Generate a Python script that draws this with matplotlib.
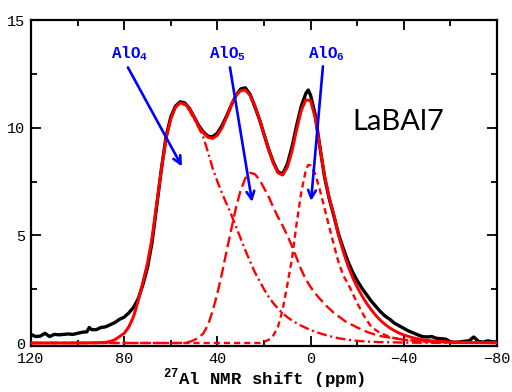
import numpy as np
import matplotlib
matplotlib.use('Agg')
from matplotlib import pyplot as plt
from matplotlib.ticker import MultipleLocator

# experimental spectrum (black)
ppm_exp = [120, 118, 116, 114, 112, 110, 108, 106, 104, 102, 100, 98, 96, 95, 94, 92, 90, 88, 86, 84,
           82, 80, 78, 76, 74, 72, 70, 68, 66, 64, 62, 60, 58, 56, 54, 52, 50, 48, 46, 44,
           42, 40, 38, 36, 34, 32, 30, 28, 26, 24, 22, 20, 18, 16, 14, 12, 10, 8, 6, 4,
           2, 1, 0, -2, -4, -6, -8, -10, -12, -14, -16, -18, -20, -22, -24, -26, -28, -30, -32, -34,
           -36, -38, -40, -42, -44, -46, -48, -50, -52, -54, -56, -58, -60, -62, -64, -66, -68, -70, -72, -74,
           -76, -78, -80]
exp_int = [0.40, 0.30, 0.32, 0.45, 0.30, 0.40, 0.38, 0.40, 0.42, 0.40, 0.45, 0.50, 0.52, 0.72, 0.62, 0.62, 0.72, 0.75, 0.85, 0.95,
           1.10, 1.20, 1.40, 1.65, 2.05, 2.70, 3.50, 4.70, 6.40, 8.10, 9.60, 10.50, 11.00, 11.20, 11.15, 10.90, 10.50, 10.10, 9.80, 9.60,
           9.58, 9.75, 10.10, 10.55, 11.05, 11.50, 11.80, 11.85, 11.55, 11.00, 10.40, 9.70, 9.00, 8.40, 7.95, 7.85, 8.30, 9.10, 10.10, 11.00,
           11.60, 11.75, 11.50, 10.60, 9.10, 7.70, 6.70, 5.90, 5.05, 4.40, 3.80, 3.30, 2.90, 2.55, 2.25, 1.95, 1.70, 1.45, 1.25, 1.10,
           0.92, 0.80, 0.68, 0.56, 0.47, 0.38, 0.30, 0.28, 0.30, 0.22, 0.20, 0.18, 0.06, 0.03, 0.05, 0.08, 0.10, 0.28, 0.08, 0.04,
           0.10, 0.06, 0.05]

# total fit (red)
ppm_fit = [120, 100, 92, 88, 86, 84, 82, 80, 78, 76, 74, 72, 70, 68, 66, 64, 62, 60, 58, 56,
           54, 52, 50, 48, 46, 44, 42, 40, 38, 36, 34, 32, 30, 28, 26, 24, 22, 20, 18, 16,
           14, 12, 10, 8, 6, 4, 2, 0, -2, -4, -6, -8, -10, -12, -14, -16, -18, -20, -22, -24,
           -26, -28, -30, -32, -34, -36, -38, -40, -44, -48, -52, -56, -60, -66, -72, -80]
fit_int = [0.0, 0.0, 0.01, 0.03, 0.07, 0.15, 0.30, 0.45, 0.75, 1.22, 1.95, 2.80, 3.70, 4.90, 6.50, 8.10, 9.50, 10.40, 10.95, 11.15,
           11.10, 10.90, 10.50, 10.05, 9.75, 9.55, 9.50, 9.65, 10.00, 10.50, 11.05, 11.50, 11.72, 11.75, 11.50, 11.05, 10.40, 9.70, 9.00, 8.35,
           7.90, 7.80, 8.15, 8.90, 9.90, 10.80, 11.30, 11.25, 10.45, 9.10, 7.75, 6.75, 5.95, 5.00, 4.25, 3.60, 3.05, 2.60, 2.20, 1.85,
           1.55, 1.28, 1.05, 0.86, 0.70, 0.57, 0.46, 0.37, 0.24, 0.15, 0.10, 0.07, 0.05, 0.03, 0.02, 0.01]

# AlO4 component (dash-dot)
ppm_alo4 = [120, 92, 88, 86, 84, 82, 80, 78, 76, 74, 72, 70, 68, 66, 64, 62, 60, 58, 56, 54,
            52, 50, 48, 46, 44, 42, 40, 38, 36, 34, 32, 30, 28, 26, 24, 22, 20, 18, 16, 14,
            12, 10, 8, 6, 4, 2, 0, -4, -8, -12, -16, -20, -25, -30, -40, -50, -80]
alo4_int = [0.0, 0.01, 0.03, 0.07, 0.15, 0.30, 0.45, 0.75, 1.22, 1.95, 2.80, 3.70, 4.90, 6.50, 8.10, 9.50, 10.40, 10.95, 11.15, 11.05,
            10.80, 10.40, 10.00, 9.55, 8.85, 8.10, 7.50, 6.95, 6.45, 5.95, 5.40, 4.85, 4.30, 3.80, 3.30, 2.90, 2.50, 2.15, 1.85, 1.60,
            1.38, 1.20, 1.05, 0.92, 0.80, 0.70, 0.60, 0.45, 0.32, 0.22, 0.15, 0.10, 0.06, 0.04, 0.02, 0.01, 0.0]

# AlO5 component (long dash)
ppm_alo5 = [120, 56, 52, 50, 48, 46, 44, 42, 40, 38, 36, 34, 32, 30, 28, 26, 24, 22, 20, 18,
            16, 14, 12, 10, 8, 6, 4, 2, 0, -2, -4, -7, -10, -15, -20, -25, -30, -40, -50, -60, -80]
alo5_int = [0.0, 0.0, 0.05, 0.14, 0.25, 0.45, 0.85, 1.50, 2.30, 3.25, 4.30, 5.30, 6.30, 7.10, 7.65, 7.90, 7.85, 7.60, 7.20, 6.80,
            6.30, 5.85, 5.45, 5.00, 4.50, 3.95, 3.40, 2.95, 2.60, 2.30, 2.05, 1.70, 1.40, 1.00, 0.72, 0.48, 0.32, 0.15, 0.07, 0.03, 0.01]

# AlO6 component (short dash)
ppm_alo6 = [120, 22, 20, 18, 16, 14, 12, 10, 8, 6, 4, 2, 1, 0, -2, -4, -6, -8, -10, -12,
            -14, -17, -20, -23, -26, -30, -35, -40, -50, -60, -80]
alo6_int = [0.0, 0.0, 0.05, 0.15, 0.35, 0.75, 1.55, 2.70, 3.90, 5.55, 7.00, 8.05, 8.27, 8.25, 7.85, 7.10, 6.25, 5.40, 4.55, 3.75,
            3.15, 2.55, 1.85, 1.25, 0.75, 0.45, 0.25, 0.15, 0.06, 0.03, 0.01]

# labels: text position, arrow tail, arrow head (ppm, intensity)
labels = ['AlO$_\\mathregular{4}$', 'AlO$_\\mathregular{5}$', 'AlO$_\\mathregular{6}$']
label_xy = [(85.5, 13.45), (43.5, 13.45), (1.2, 13.45)]
arrow_from = [(78.4, 12.8), (34.6, 12.8), (-5.3, 12.85)]
arrow_to = [(55.2, 8.2), (25.1, 6.55), (-0.2, 6.6)]

mono = 'Liberation Mono'

fig = plt.figure(figsize=(5.12, 3.92), dpi=100)
ax = fig.add_axes([0.0605, 0.1173, 0.9102, 0.8316])

ax.plot(ppm_exp, exp_int, color='black', lw=2.4, zorder=2)
ax.plot(ppm_fit, fit_int, color='red', lw=2.1, zorder=3)
ax.plot(ppm_alo4, alo4_int, color='red', lw=1.7, ls=(0, (4.2, 1.5, 0.9, 1.5)), zorder=3)
ax.plot(ppm_alo5, alo5_int, color='red', lw=1.7, ls=(0, (4.6, 2.0)), zorder=3)
ax.plot(ppm_alo6, alo6_int, color='red', lw=1.7, ls=(0, (2.6, 1.7)), zorder=3)

for lab, txy, a0, a1 in zip(labels, label_xy, arrow_from, arrow_to):
    ax.text(txy[0], txy[1], lab, color='blue', fontsize=11.5, family=mono, weight='bold',
            ha='left', va='center', zorder=5)
    ax.annotate('', xy=a1, xytext=a0,
                arrowprops=dict(arrowstyle='->', color='blue', lw=1.9, mutation_scale=14,
                                shrinkA=0, shrinkB=0), zorder=5)

ax.text(-17.8, 9.9, 'LaBAl7', fontsize=21, family='Lato', color='black', ha='left', va='baseline')

ax.set_xlim(120, -80)
ax.set_ylim(-0.14, 15)
ax.xaxis.set_major_locator(MultipleLocator(40))
ax.xaxis.set_minor_locator(MultipleLocator(20))
ax.yaxis.set_major_locator(MultipleLocator(5))
ax.yaxis.set_minor_locator(MultipleLocator(2.5))
ax.tick_params(which='both', direction='in', top=True, right=True, width=1.3,
               labelsize=11, pad=4)
ax.tick_params(which='major', length=7)
ax.tick_params(which='minor', length=4.5)
for lab in ax.get_xticklabels() + ax.get_yticklabels():
    lab.set_family(mono)
for s in ax.spines.values():
    s.set_linewidth(1.6)

ax.set_xlabel('$^\\mathregular{27}$Al NMR shift (ppm)', family=mono, weight='bold',
              fontsize=12.5, labelpad=0.5)

plt.savefig('out.png', dpi=100)
